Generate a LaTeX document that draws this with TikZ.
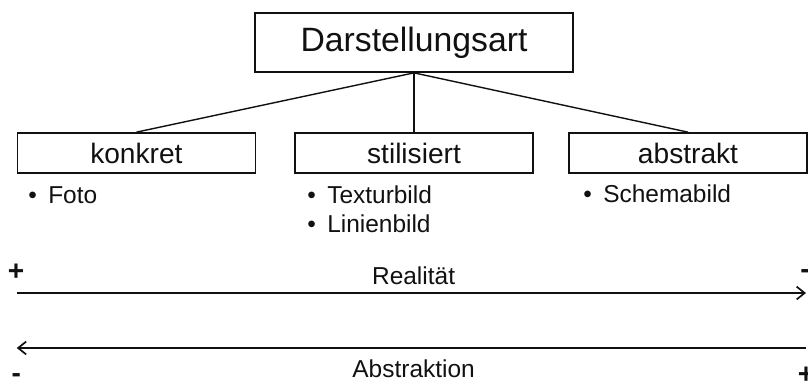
\documentclass[tikz,border=0pt]{standalone}
\usepackage{fontspec}
\setmainfont{Liberation Sans}
\usetikzlibrary{arrows.meta}
\definecolor{ink}{HTML}{111111}
\tikzset{
  root/.style={rectangle, draw=ink, line width=1.2pt, fill=white,
    font=\fontsize{24}{28}\selectfont, minimum width=7.95cm, minimum height=1.475cm, inner sep=0pt},
  cat/.style={rectangle, draw=ink, line width=1.2pt, fill=white,
    font=\fontsize{20}{24}\selectfont, minimum width=5.95cm, minimum height=1.0cm, inner sep=0pt},
  itm/.style={anchor=base west, inner sep=0pt, align=left, font=\fontsize{17.4}{20.6}\selectfont},
  lb/.style={anchor=base, inner sep=0pt, font=\fontsize{17.4}{20}\selectfont},
  sgn/.style={inner sep=0pt, font=\bfseries\fontsize{20}{24}\selectfont},
  br/.style={draw=ink, line width=1pt},
  ar/.style={draw=ink, line width=1.2pt, -{Straight Barb[length=0.2cm, width=0.32cm]}},
}
\newcommand{\BL}{\llap{\textbullet\hspace{8pt}}}

\begin{document}
\begin{tikzpicture}[every node/.style={text=ink}]
\useasboundingbox (0,0) rectangle (20.2,-9.575);

\node[root] (DA) at (10.35,-1.0625) {Darstellungsart};

\node[cat] (KO) at (3.41,-3.825)  {konkret};
\node[cat] (ST) at (10.35,-3.825) {stilisiert};
\node[cat] (AB) at (17.2,-3.825)  {abstrakt};

\node[itm] (KOL) at (1.2,-5.075)   {\BL Foto};
\node[itm] (STL) at (8.175,-5.8)   {\BL Texturbild\\\BL Linienbild};
\node[itm] (ABL) at (15.075,-5.05) {\BL Schemabild};

\draw[br] (DA.south) -- (KO.north);
\draw[br] (DA.south) -- (ST.north);
\draw[br] (DA.south) -- (AB.north);

\coordinate (R0) at (0.42,-7.325);
\coordinate (R1) at (20.15,-7.325);
\coordinate (A0) at (0.42,-8.7);
\coordinate (A1) at (20.15,-8.7);

\draw[ar] (R0) -- (R1);
\draw[ar] (A1) -- (A0);

\node[lb] (RE) at (10.34,-7.1)  {Realität};
\node[lb] (AK) at (10.34,-9.425) {Abstraktion};

\node[sgn] (RP) at (0.4,-6.8)      {+};
\node[sgn] (RM) at (20.125,-6.85)  {-};
\node[sgn] (AM) at (0.41,-9.45)    {-};
\node[sgn] (AP) at (20.15,-9.375)  {+};
\end{tikzpicture}
\end{document}
